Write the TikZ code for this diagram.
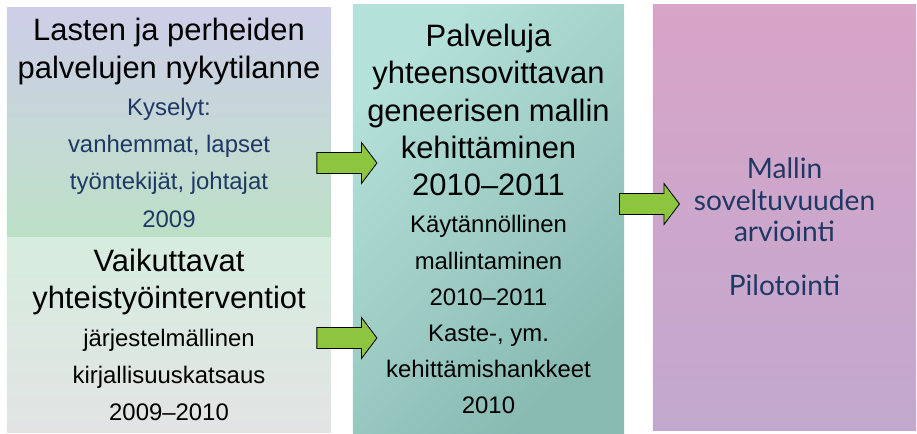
\documentclass[tikz,border=0pt]{standalone}
\usepackage{fontspec}
\setmainfont{Liberation Sans}
\newfontfamily\gillfont{Lato}
\usepackage{xcolor}
\usepackage{tikz}
\usetikzlibrary{shapes.arrows, positioning}
\definecolor{navy}{RGB}{31, 56, 100}
\definecolor{lavender}{RGB}{206, 206, 232}
\definecolor{skyish}{RGB}{198, 224, 232}
\definecolor{mint}{RGB}{188, 224, 198}
\definecolor{palemint}{RGB}{214, 236, 222}
\definecolor{palegrey}{RGB}{226, 228, 228}
\definecolor{tealA}{RGB}{180, 225, 218}
\definecolor{tealB}{RGB}{136, 186, 178}
\definecolor{rose}{RGB}{216, 164, 200}
\definecolor{lilac}{RGB}{194, 168, 206}
\definecolor{arrowgreen}{RGB}{140, 198, 63}
\newcommand{\bigtxt}{\fontsize{22}{26.5}\selectfont}
\newcommand{\minor}[1]{{\fontsize{17}{20}\selectfont #1}}
\tikzstyle{panel} = [rectangle, inner sep=0pt, align=center, text centered, font=\bigtxt]
\tikzstyle{blockarrow} = [single arrow, draw=black, line width=0.6pt, fill=arrowgreen, minimum height=1.5cm, inner sep=0.25cm, single arrow head extend=0.25cm, single arrow tip angle=106, single arrow head indent=0pt]

\begin{document}
\begin{tikzpicture}[x=0.025cm, y=-0.025cm]
    \useasboundingbox (0,0) rectangle (917,434);

    % Boxes
    \node[panel, minimum width=8.1cm, minimum height=5.75cm, top color=lavender, middle color=skyish, bottom color=mint] (lt) at (169,123)
        {Lasten ja perheiden\\ palvelujen nykytilanne\\ \minor{\color{navy}Kyselyt:}\\ \minor{\color{navy}vanhemmat, lapset}\\ \minor{\color{navy}työntekijät, johtajat}\\ \minor{\color{navy}2009}};
    \node[panel, minimum width=8.1cm, minimum height=4.85cm, top color=palemint, bottom color=palegrey] (lb) at (169,335)
        {Vaikuttavat\\ yhteistyöinterventiot\\ \minor{järjestelmällinen}\\ \minor{kirjallisuuskatsaus}\\ \minor{2009–2010}};
    \node[panel, minimum width=6.775cm, minimum height=10.7cm, left color=tealA, right color=tealB, shading angle=45] (mid) at (488.5,219)
        {Palveluja\\ yhteensovittavan\\ geneerisen mallin\\ kehittäminen\\ 2010–2011\\ \minor{Käytännöllinen}\\[-0.8pt] \minor{mallintaminen}\\[-0.8pt] \minor{2010–2011}\\[-0.8pt] \minor{Kaste-, ym.}\\[-0.8pt] \minor{kehittämishankkeet}\\[-0.8pt] \minor{2010}};
    \node[panel, minimum width=6.575cm, minimum height=10.625cm, top color=rose, bottom color=lilac, font=\gillfont\fontsize{20}{22.5}\selectfont, text=navy] (rt) at (784.5,217.5)
        {\rule{0pt}{28pt}Mallin\\ soveltuvuuden\\ arviointi\\[15.5pt] Pilotointi};

    % Arrows
    \node[blockarrow] (a1) at (343,163) {};
    \node[blockarrow] (a2) at (343,338) {};
    \node[blockarrow] (a3) at (645.5,204) {};
\end{tikzpicture}
\end{document}
